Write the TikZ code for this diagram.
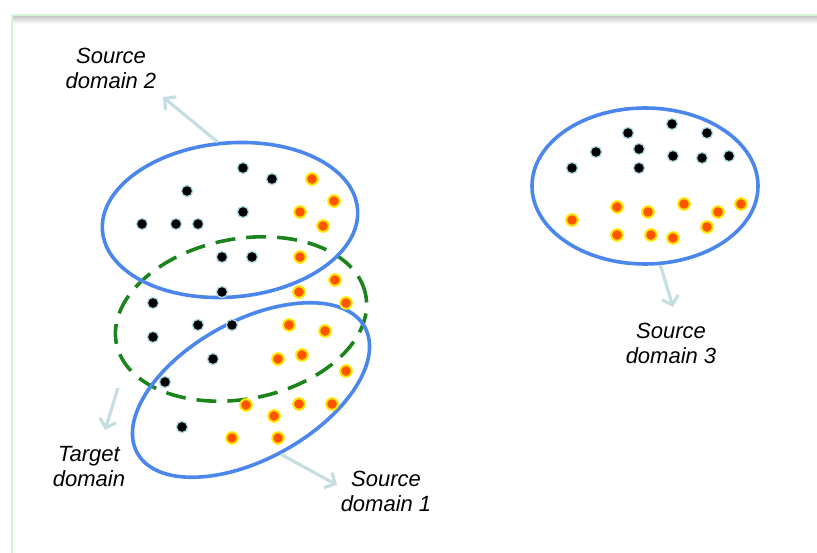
\documentclass[tikz,border=0pt]{standalone}
\usepackage{fontspec}
\setmainfont{Liberation Sans}
\usetikzlibrary{shapes.geometric,arrows.meta}
\definecolor{ellblue}{RGB}{74,134,235}
\definecolor{tgtgreen}{RGB}{28,132,28}
\definecolor{arrowgray}{RGB}{196,222,226}
\definecolor{framegreen}{RGB}{214,244,214}
\definecolor{dotring}{RGB}{175,218,226}
\definecolor{orangefill}{RGB}{255,85,0}
\definecolor{ringyellow}{RGB}{255,232,0}
\begin{document}
\begin{tikzpicture}[x=1pt,y=-1pt,
  domainell/.style={ellipse, draw=ellblue, line width=3.6pt, inner sep=0pt},
  targetell/.style={ellipse, draw=tgtgreen, line width=3.6pt, dash pattern=on 20pt off 11pt, inner sep=0pt},
  pointer/.style={draw=arrowgray, line width=3.2pt, -{Straight Barb[length=8pt,width=17pt]}},
  domlabel/.style={font=\itshape\fontsize{22}{25}\selectfont, align=center, text=black},
  blackdot/.style={fill=black, draw=dotring, line width=1.3pt},
  orangedot/.style={fill=orangefill, draw=ringyellow, line width=2pt}]
\useasboundingbox (0,0) rectangle (817,553);
% frame
\shade[top color=black!22, bottom color=white] (13,16) rectangle (817,24);
\draw[framegreen, line width=2pt] (12,553) -- (12,15) -- (817,15);
% domains
\node[targetell, minimum width=254pt, minimum height=160pt, rotate=11] (t) at (241,319) {};
\node[domainell, minimum width=256pt, minimum height=154pt, rotate=5] (s2) at (230,220) {};
\node[domainell, minimum width=260pt, minimum height=138pt, rotate=29] (s1) at (251,390) {};
\node[domainell, minimum width=226pt, minimum height=156pt] (s3) at (645,186) {};
% black points
\foreach \px/\py in {243/168,272/179,187/191,243/212,142/224,176/224,198/224,222/257,252/257,222/292,153/303,
  198/325,232/325,153/337,213/359,165/382,182/427,
  672/124,628/133,707/133,639/149,596/152,673/156,702/158,729/156,572/168,639/168}
  \filldraw[blackdot] (\px,\py) circle (5.6pt);
% orange points
\foreach \px/\py in {312/179,334/201,300/212,323/226,300/257,335/280,299/292,346/303,
  289/325,325/331,278/359,302/355,346/371,246/405,299/404,332/404,274/416,232/438,278/438,
  617/207,648/212,684/204,718/212,741/204,572/220,617/235,651/235,673/238,707/227}
  \filldraw[orangedot] (\px,\py) circle (5.8pt);
% labels
\node[domlabel] (l2) at (111,68) {Source\\domain 2};
\node[domlabel] (lt) at (89,467) {Target\\domain};
\node[domlabel] (l1) at (386,491) {Source\\domain 1};
\node[domlabel] (l3) at (671,343) {Source\\domain 3};
% arrow ends
\coordinate (s2tip) at (163,97);
\coordinate (tstart) at (118,388);
\coordinate (ttip) at (105,430);
\coordinate (s1tip) at (337,485);
\coordinate (s3tip) at (673,307);
\draw[pointer] (s2.94) -- (s2tip);
\draw[pointer] (tstart) -- (ttip);
\draw[pointer] (s1.266) -- (s1tip);
\draw[pointer] (s3.281) -- (s3tip);
\end{tikzpicture}
\end{document}
